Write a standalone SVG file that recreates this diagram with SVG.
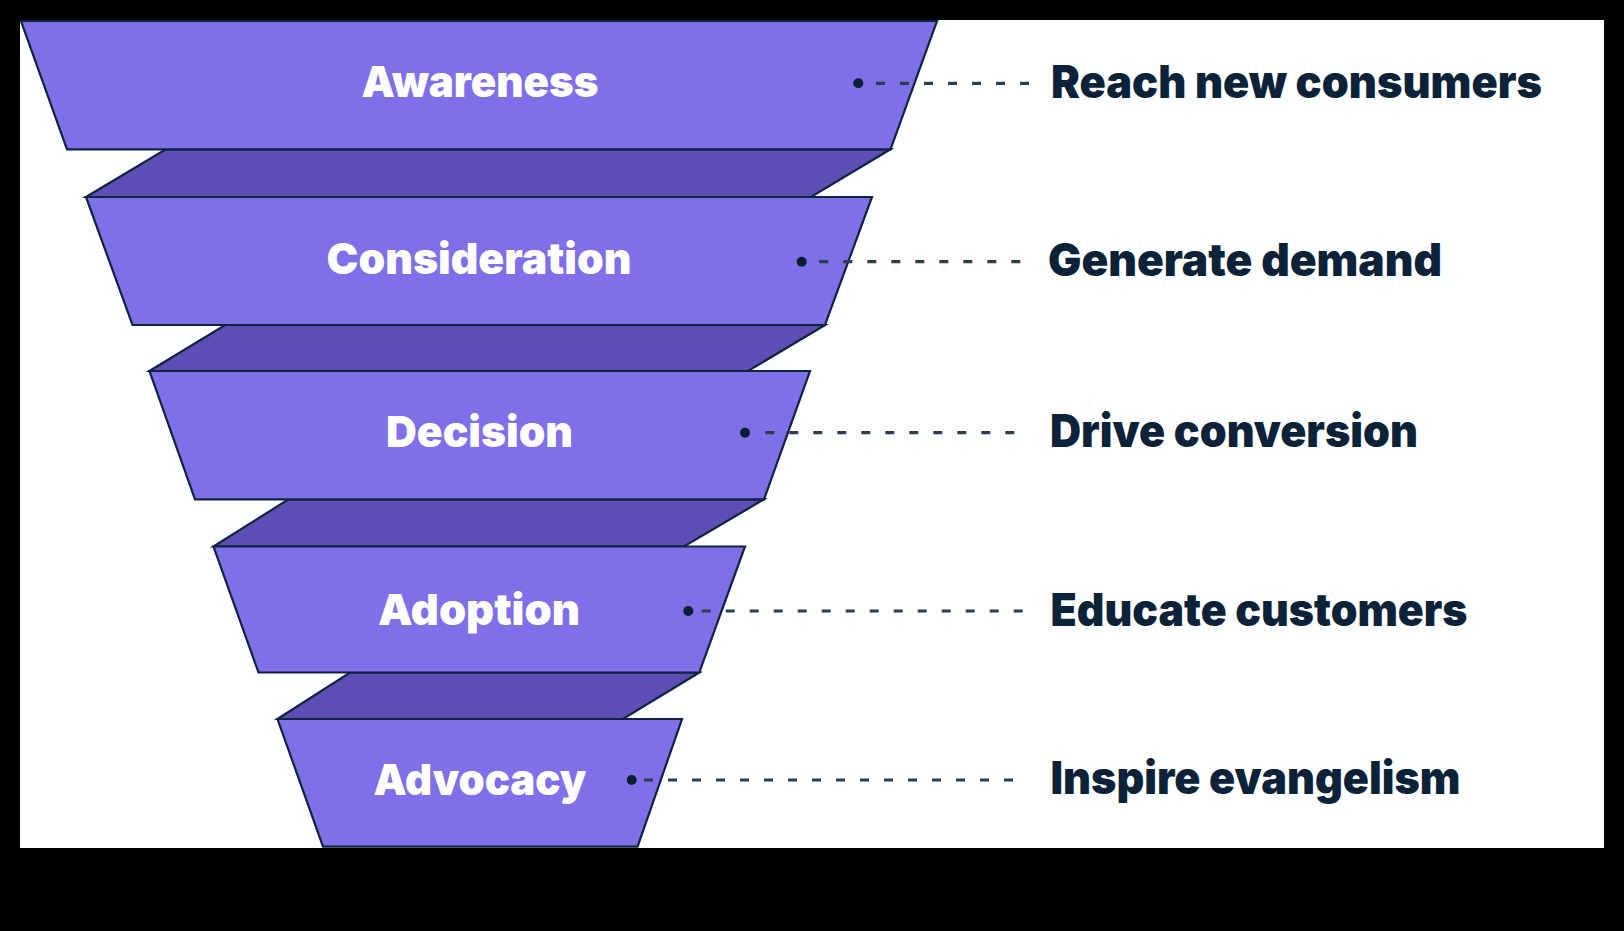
<svg xmlns="http://www.w3.org/2000/svg" width="1624" height="931" viewBox="0 0 1624 931">
  <style>
    .front { fill: #7f6fe8; stroke: #0d2440; stroke-width: 2.2; stroke-linejoin: miter; }
    .side { fill: #5d4db4; stroke: #0d2440; stroke-width: 2.2; stroke-linejoin: miter; }
    .stage { font-family: Inter, "Liberation Sans", sans-serif; font-weight: 900; font-size: 43px; fill: #ffffff; text-anchor: middle; }
    .goal { font-family: Inter, "Liberation Sans", sans-serif; font-weight: 900; font-size: 45px; fill: #0b2239; }
    .dash { stroke: #2c3e50; stroke-width: 3.2; stroke-dasharray: 9 15; fill: none; }
    .dot { fill: #0b1f33; }
  </style>
  <rect x="0" y="0" width="1624" height="931" fill="#000000"/>
  <rect x="20" y="20" width="1584" height="828" fill="#ffffff"/>

  <g id="sides">
    <polygon class="side" points="165.7,149.3 890.5,149.3 811,197 86,197"/>
    <polygon class="side" points="225,325 825,325 748,371 149.5,371"/>
    <polygon class="side" points="288.5,499.3 764,499.3 684,546.5 213.5,546.5"/>
    <polygon class="side" points="350,672.5 699.3,672.5 623,719 277.5,719"/>
  </g>

  <g id="awareness">
    <polygon class="front" points="21,21 937,21 890.5,149.3 67,149.3"/>
    <text class="stage" x="480" y="96.5" textLength="237" lengthAdjust="spacingAndGlyphs">Awareness</text>
  </g>
  <g id="consideration">
    <polygon class="front" points="86,197 872,197 825,325 132.5,325"/>
    <text class="stage" x="479" y="274" textLength="305" lengthAdjust="spacingAndGlyphs">Consideration</text>
  </g>
  <g id="decision">
    <polygon class="front" points="149.5,371 810,371 764,499.3 195,499.3"/>
    <text class="stage" x="479.5" y="446.5" textLength="187" lengthAdjust="spacingAndGlyphs">Decision</text>
  </g>
  <g id="adoption">
    <polygon class="front" points="213.5,546.5 745,546.5 699.3,672.5 258.5,672.5"/>
    <text class="stage" x="479" y="625" textLength="202" lengthAdjust="spacingAndGlyphs">Adoption</text>
  </g>
  <g id="advocacy">
    <polygon class="front" points="277.5,719 682,719 637.6,846.7 323,846.7"/>
    <text class="stage" x="480" y="795" textLength="213" lengthAdjust="spacingAndGlyphs">Advocacy</text>
  </g>

  <g id="connectors">
    <circle class="dot" cx="858.3" cy="83.3" r="5"/>
    <line class="dash" x1="876" y1="83.3" x2="1030" y2="83.3"/>
    <circle class="dot" cx="801.7" cy="261.7" r="5"/>
    <line class="dash" x1="819.3" y1="261.7" x2="1021" y2="261.7"/>
    <circle class="dot" cx="745" cy="432.7" r="5"/>
    <line class="dash" x1="765.3" y1="432.7" x2="1015" y2="432.7"/>
    <circle class="dot" cx="688.3" cy="611" r="5"/>
    <line class="dash" x1="701.7" y1="611" x2="1025" y2="611"/>
    <circle class="dot" cx="631.7" cy="780" r="5"/>
    <line class="dash" x1="644" y1="780" x2="1014" y2="780"/>
  </g>

  <g id="goals">
    <text id="goal-awareness" class="goal" x="1051" y="97.7" textLength="491" lengthAdjust="spacingAndGlyphs">Reach new consumers</text>
    <text id="goal-consideration" class="goal" x="1048" y="275.7" textLength="394" lengthAdjust="spacingAndGlyphs">Generate demand</text>
    <text id="goal-decision" class="goal" x="1050" y="447.3" textLength="368" lengthAdjust="spacingAndGlyphs">Drive conversion</text>
    <text id="goal-adoption" class="goal" x="1050.5" y="626" textLength="417" lengthAdjust="spacingAndGlyphs">Educate customers</text>
    <text id="goal-advocacy" class="goal" x="1050.5" y="794.3" textLength="410" lengthAdjust="spacingAndGlyphs">Inspire evangelism</text>
  </g>
</svg>
